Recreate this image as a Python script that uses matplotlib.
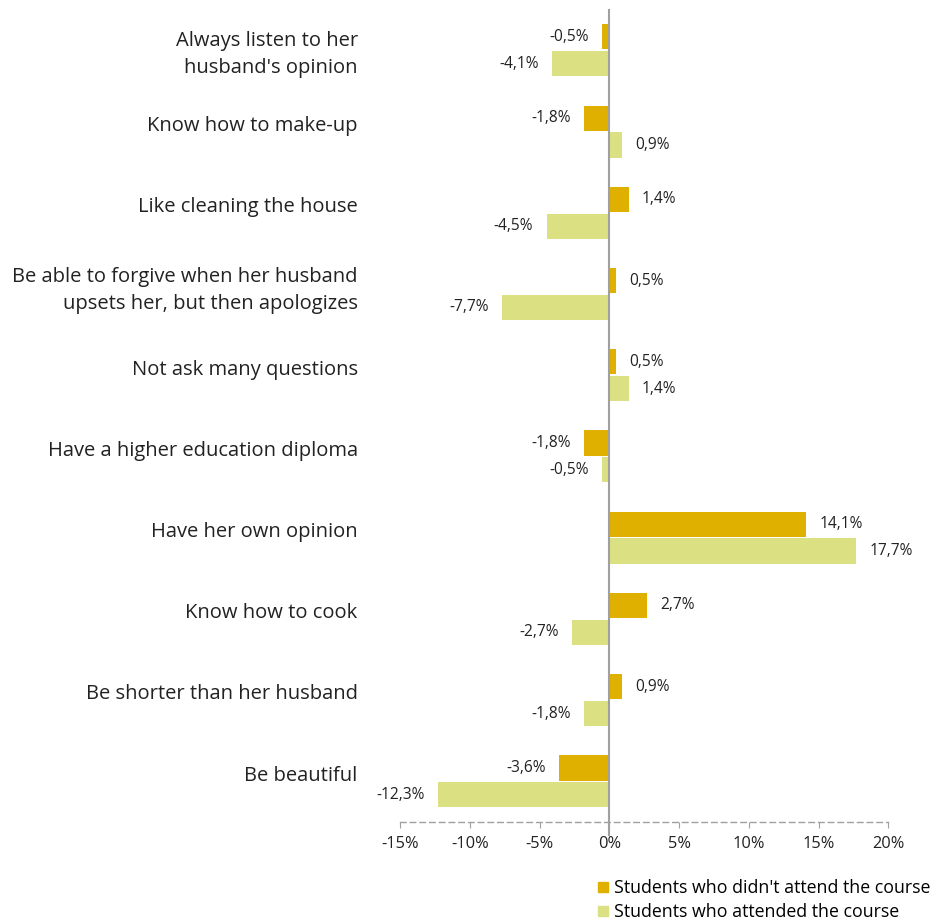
import numpy as np
import matplotlib.pyplot as plt
from matplotlib.transforms import blended_transform_factory
from matplotlib.lines import Line2D

plt.rcParams['font.family'] = ['Open Sans', 'DejaVu Sans']

# -------------------------------------------------
# Data (change in %, top to bottom)
# -------------------------------------------------
categories = [
    "Always listen to her\nhusband's opinion",
    "Know how to make-up",
    "Like cleaning the house",
    "Be able to forgive when her husband\nupsets her, but then apologizes",
    "Not ask many questions",
    "Have a higher education diploma",
    "Have her own opinion",
    "Know how to cook",
    "Be shorter than her husband",
    "Be beautiful",
]
not_attended = [-0.5, -1.8, 1.4, 0.5, 0.5, -1.8, 14.1, 2.7, 0.9, -3.6]
attended = [-4.1, 0.9, -4.5, -7.7, 1.4, -0.5, 17.7, -2.7, -1.8, -12.3]
x_ticks = [-15, -10, -5, 0, 5, 10, 15, 20]
legend_labels = ["Students who didn't attend the course", "Students who attended the course"]

dark = "#E0B000"
light = "#DBE083"
grey = "#A0A0A0"
txt = "#222222"

fig = plt.figure(figsize=(9.37, 9.22), dpi=100)
ax = fig.add_axes([0.427, 0.1085, 0.521, 0.881])

y = np.arange(len(categories))
h = 0.31
off = 0.165
ax.barh(y - off, not_attended, height=h, color=dark, zorder=2)
ax.barh(y + off, attended, height=h, color=light, zorder=2)

# value labels
def label_bars(vals, ypos):
    for v, yy in zip(vals, ypos):
        s = f"{v:.1f}%".replace(".", ",")
        if v >= 0:
            ax.annotate(s, (v, yy), xytext=(9.5, 0), textcoords="offset points",
                        ha="left", va="center", fontsize=11.2, color=txt)
        else:
            ax.annotate(s, (v, yy), xytext=(-9.5, 0), textcoords="offset points",
                        ha="right", va="center", fontsize=11.2, color=txt)

label_bars(not_attended, y - off)
label_bars(attended, y + off)

# category labels (two-line labels sit a bit lower than the single ones)
trans = blended_transform_factory(ax.transAxes, ax.transData)
for i, c in enumerate(categories):
    dy = -0.07
    if i == 0:
        dy = 0.05
    elif "\n" in c:
        dy = -0.04
    ax.text(-0.087, y[i] + dy, c, transform=trans, ha="right", va="center",
            fontsize=14.5, color=txt, linespacing=1.45)

ax.set_xlim(-15, 20)
ax.set_ylim(len(categories) - 0.5, -0.5)
ax.set_xticks(x_ticks)
ax.set_xticklabels([f"{t}%" for t in x_ticks], fontsize=11.8, color=txt)
ax.set_yticks([])

for s in ["top", "right", "left"]:
    ax.spines[s].set_visible(False)
ax.spines["bottom"].set_color(grey)
ax.spines["bottom"].set_linestyle((0, (4, 3)))
ax.spines["bottom"].set_linewidth(1)
ax.tick_params(axis="x", length=4, color=grey, pad=6)

ax.axvline(0, ymin=-0.016, ymax=1, color=grey, lw=1.5, clip_on=False, zorder=3)

handles = [Line2D([], [], marker="s", ls="", color=dark, markersize=6.5),
           Line2D([], [], marker="s", ls="", color=light, markersize=6.5)]
fig.legend(handles, legend_labels, loc="lower left", bbox_to_anchor=(0.628, -0.007),
           frameon=False, fontsize=12.8, handletextpad=0.25, handlelength=0.8,
           labelspacing=0.33, borderaxespad=0)

fig.savefig("out.png", dpi=100)
